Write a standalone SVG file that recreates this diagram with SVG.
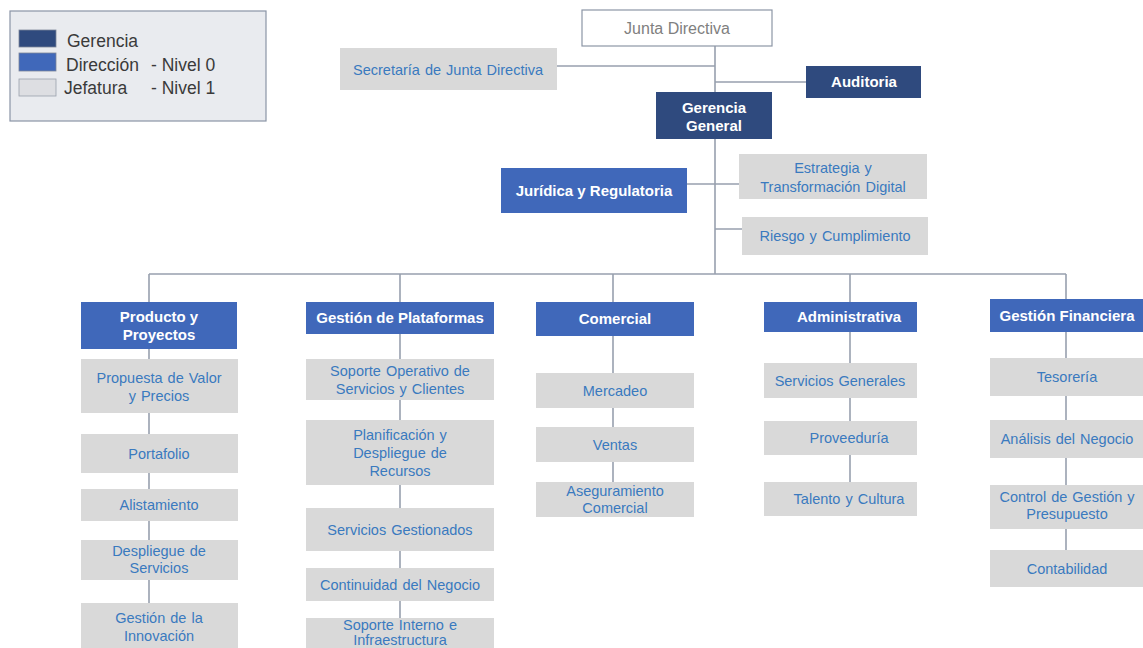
<svg xmlns="http://www.w3.org/2000/svg" width="1143" height="648" viewBox="0 0 1143 648">
<style>
.ln{stroke:#98a0ae;stroke-width:1.6;fill:none}
.g{fill:#2f4a7e}
.d{fill:#4068ba}
.j{fill:#d9d9d9}
.w{fill:#fff;stroke:#8c96a6;stroke-width:1.2}
text{font-family:"Liberation Sans",Arial,sans-serif;text-anchor:middle}
.tb{fill:#ffffff;font-weight:bold;font-size:15px}
.tj{fill:#3a7abf;font-size:14.5px;word-spacing:1px}
.tw{fill:#808080;font-size:16px}
.lg{fill:#3a3a3a;font-size:17.5px;text-anchor:start}
</style>
<rect width="1143" height="648" fill="#fff"/>
<g id="legend">
<rect x="10" y="11" width="256" height="110" fill="#e9ebef" stroke="#8a94a6" stroke-width="1.2"/>
<rect x="19" y="30" width="37" height="17" fill="#2f4a7e" stroke="#7c8699" stroke-width="0.8"/>
<rect x="19" y="53" width="37" height="18" fill="#4068ba" stroke="#7c8699" stroke-width="0.8"/>
<rect x="19" y="79" width="37" height="17" fill="#dddee2" stroke="#9aa0ad" stroke-width="0.8"/>
<text class="lg" x="67" y="47">Gerencia</text>
<text class="lg" x="66" y="71">Dirección</text>
<text class="lg" x="151" y="71">- Nivel 0</text>
<text class="lg" x="64" y="94">Jefatura</text>
<text class="lg" x="151" y="94">- Nivel 1</text>
</g>
<g id="connectors">
<path class="ln" d="M715 46V92M715 139V274M557 66H715M715 82H806M687 184H739M715 229H742"/>
<path class="ln" d="M149 274H1066M149 274V302M400 274V302M613 274V302M850 274V302M1066 274V299"/>
<path class="ln" d="M149 349V359M149 413V434M149 473V489M149 521V540M149 580V603"/>
<path class="ln" d="M400 334V359M400 400V420M400 485V508M400 551V568M400 601V618"/>
<path class="ln" d="M613 336V373M613 408V427M613 462V482"/>
<path class="ln" d="M850 332V363M850 398V421M850 455V482"/>
<path class="ln" d="M1066 332V358M1066 396V420M1066 458V485M1066 529V550"/>
</g>
<g id="junta"><rect class="w" x="582" y="10" width="190" height="36"/><text class="tw" x="677" y="34">Junta Directiva</text></g>
<g id="secretaria"><rect class="j" x="340" y="48" width="217" height="42"/><text class="tj" x="448" y="75">Secretaría de Junta Directiva</text></g>
<g id="auditoria"><rect class="g" x="806" y="66" width="115" height="32"/><text class="tb" x="864" y="87">Auditoria</text></g>
<g id="gerencia-general"><rect class="g" x="656" y="92" width="116" height="47"/><text class="tb" x="714" y="113">Gerencia</text><text class="tb" x="714" y="131">General</text></g>
<g id="juridica"><rect class="d" x="501" y="168" width="186" height="45"/><text class="tb" x="594" y="196">Jurídica y Regulatoria</text></g>
<g id="estrategia"><rect class="j" x="739" y="154" width="188" height="45"/><text class="tj" x="833" y="173">Estrategia y</text><text class="tj" x="833" y="192">Transformación Digital</text></g>
<g id="riesgo"><rect class="j" x="742" y="217" width="186" height="38"/><text class="tj" x="835" y="241">Riesgo y Cumplimiento</text></g>

<g id="producto"><rect class="d" x="81" y="302" width="156" height="47"/><text class="tb" x="159" y="322">Producto y</text><text class="tb" x="159" y="340">Proyectos</text></g>
<g id="propuesta"><rect class="j" x="81" y="359" width="157" height="54"/><text class="tj" x="159" y="383">Propuesta de Valor</text><text class="tj" x="159" y="401">y Precios</text></g>
<g id="portafolio"><rect class="j" x="81" y="434" width="157" height="39"/><text class="tj" x="159" y="459">Portafolio</text></g>
<g id="alistamiento"><rect class="j" x="81" y="489" width="157" height="32"/><text class="tj" x="159" y="510">Alistamiento</text></g>
<g id="despliegue"><rect class="j" x="81" y="540" width="157" height="40"/><text class="tj" x="159" y="556">Despliegue de</text><text class="tj" x="159" y="573">Servicios</text></g>
<g id="innovacion"><rect class="j" x="81" y="603" width="157" height="50"/><text class="tj" x="159" y="623">Gestión de la</text><text class="tj" x="159" y="641">Innovación</text></g>

<g id="plataformas"><rect class="d" x="306" y="302" width="188" height="32"/><text class="tb" x="400" y="323">Gestión de Plataformas</text></g>
<g id="soporte-operativo"><rect class="j" x="306" y="359" width="188" height="41"/><text class="tj" x="400" y="376">Soporte Operativo de</text><text class="tj" x="400" y="394">Servicios y Clientes</text></g>
<g id="planificacion"><rect class="j" x="306" y="420" width="188" height="65"/><text class="tj" x="400" y="440">Planificación y</text><text class="tj" x="400" y="458">Despliegue de</text><text class="tj" x="400" y="476">Recursos</text></g>
<g id="servicios-gestionados"><rect class="j" x="306" y="508" width="188" height="43"/><text class="tj" x="400" y="535">Servicios Gestionados</text></g>
<g id="continuidad"><rect class="j" x="306" y="568" width="188" height="33"/><text class="tj" x="400" y="590">Continuidad del Negocio</text></g>
<g id="soporte-interno"><rect class="j" x="306" y="618" width="188" height="35"/><text class="tj" x="400" y="630">Soporte Interno e</text><text class="tj" x="400" y="645">Infraestructura</text></g>

<g id="comercial"><rect class="d" x="536" y="302" width="158" height="34"/><text class="tb" x="615" y="324">Comercial</text></g>
<g id="mercadeo"><rect class="j" x="536" y="373" width="158" height="35"/><text class="tj" x="615" y="396">Mercadeo</text></g>
<g id="ventas"><rect class="j" x="536" y="427" width="158" height="35"/><text class="tj" x="615" y="450">Ventas</text></g>
<g id="aseguramiento"><rect class="j" x="536" y="482" width="158" height="35"/><text class="tj" x="615" y="496">Aseguramiento</text><text class="tj" x="615" y="513">Comercial</text></g>

<g id="administrativa"><rect class="d" x="764" y="302" width="153" height="30"/><text class="tb" x="849" y="322">Administrativa</text></g>
<g id="servicios-generales"><rect class="j" x="764" y="363" width="153" height="35"/><text class="tj" x="840" y="386">Servicios Generales</text></g>
<g id="proveeduria"><rect class="j" x="764" y="421" width="153" height="34"/><text class="tj" x="849" y="443">Proveeduría</text></g>
<g id="talento"><rect class="j" x="764" y="482" width="153" height="34"/><text class="tj" x="849" y="504">Talento y Cultura</text></g>

<g id="financiera"><rect class="d" x="990" y="299" width="160" height="33"/><text class="tb" x="1067" y="321">Gestión Financiera</text></g>
<g id="tesoreria"><rect class="j" x="990" y="358" width="160" height="38"/><text class="tj" x="1067" y="382">Tesorería</text></g>
<g id="analisis"><rect class="j" x="990" y="420" width="160" height="38"/><text class="tj" x="1067" y="444">Análisis del Negocio</text></g>
<g id="control"><rect class="j" x="990" y="485" width="160" height="44"/><text class="tj" x="1067" y="502">Control de Gestión y</text><text class="tj" x="1067" y="519">Presupuesto</text></g>
<g id="contabilidad"><rect class="j" x="990" y="550" width="160" height="37"/><text class="tj" x="1067" y="574">Contabilidad</text></g>
</svg>
